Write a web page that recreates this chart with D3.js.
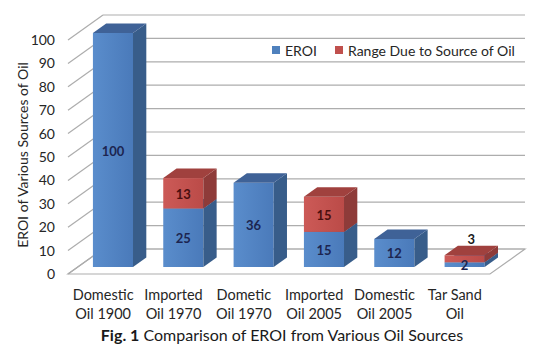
<!DOCTYPE html>
<html>
<head>
<meta charset="utf-8">
<script src="https://cdn.jsdelivr.net/npm/d3@7"></script>
<style>
  html, body { margin: 0; padding: 0; background: #fff; }
  svg { display: block; font-family: Lato, "Open Sans", sans-serif; }
</style>
</head>
<body>
<svg id="chart" width="550" height="353"></svg>
<script>
// ---- data ----
const categories = [
  ["Domestic", "Oil 1900"],
  ["Imported", "Oil 1970"],
  ["Dometic", "Oil 1970"],
  ["Imported", "Oil 2005"],
  ["Domestic", "Oil 2005"],
  ["Tar Sand", "Oil"]
];
const eroiValues = [100, 25, 36, 15, 12, 2];
const rangeValues = [0, 13, 0, 15, 0, 3];
const yTicks = [0, 10, 20, 30, 40, 50, 60, 70, 80, 90, 100];
const seriesNames = ["EROI", "Range Due to Source of Oil"];

(function () {
  const svg = d3.select("#chart");

  // plot geometry (front plane of the floor + 3d depth)
  const x0 = 68, x1 = 490;
  const depthX = 35, depthY = 25;
  const barFront = 0.28, barDepth = 0.38;
  const bdx = depthX * barDepth, bdy = depthY * barDepth;
  const offX = depthX * barFront, offY = depthY * barFront;

  const y = d3.scaleLinear().domain([0, 100]).range([274, 40]);
  const idx = categories.map((d, i) => i);
  const x = d3.scaleBand()
    .domain(idx)
    .range([x0, x1])
    .paddingInner(0.43)
    .paddingOuter(0.215);

  const colors = {
    blue: { front: ["#5a8dcc", "#4a7aba"], side: "#385d8a", top: "#3f6297", label: "#1c2550" },
    red: { front: ["#cc5a57", "#bb4b48"], side: "#8e3b39", top: "#a0413e", label: "#4a0f0f" }
  };

  const defs = svg.append("defs");
  Object.keys(colors).forEach(k => {
    const g = defs.append("linearGradient")
      .attr("id", "grad-" + k)
      .attr("x1", "0%").attr("x2", "100%").attr("y1", "0%").attr("y2", "0%");
    g.append("stop").attr("offset", "0%").attr("stop-color", colors[k].front[0]);
    g.append("stop").attr("offset", "100%").attr("stop-color", colors[k].front[1]);
  });

  // --- walls / gridlines ---
  const grid = svg.append("g").attr("stroke", "#adadad").attr("stroke-width", 1.2).attr("fill", "none");

  // floor
  grid.append("path")
    .attr("d", `M${x0},${y(0)} L${x1},${y(0)} L${x1 + depthX},${y(0) - depthY} L${x0 + depthX},${y(0) - depthY} Z`);

  yTicks.forEach(t => {
    grid.append("line")
      .attr("x1", x0).attr("y1", y(t))
      .attr("x2", x0 + depthX).attr("y2", y(t) - depthY);
    grid.append("line")
      .attr("x1", x0 + depthX).attr("y1", y(t) - depthY)
      .attr("x2", x1 + depthX).attr("y2", y(t) - depthY);
  });

  // y axis labels
  const yAxis = svg.append("g")
    .attr("transform", `translate(${x0},0)`)
    .call(d3.axisLeft(y).tickValues(yTicks).tickSize(0).tickPadding(13));
  yAxis.select(".domain").remove();
  yAxis.selectAll("text")
    .style("font-family", "Lato, sans-serif")
    .style("font-size", "14px")
    .attr("fill", "#262626");

  // y title
  svg.append("text")
    .attr("transform", `translate(24,${(y(0) + y(100)) / 2 - 2}) rotate(-90)`)
    .attr("text-anchor", "middle")
    .attr("dominant-baseline", "middle")
    .style("font-size", "14px")
    .attr("fill", "#262626")
    .text("EROI of Various Sources of Oil");

  // --- bars ---
  function drawBlock(g, i, v0, v1, c) {
    const bx = x(i) + offX;
    const bw = x.bandwidth();
    const yb = y(v0) - offY;
    const yt = y(v1) - offY;
    // front
    g.append("rect")
      .attr("x", bx).attr("y", yt)
      .attr("width", bw).attr("height", yb - yt)
      .attr("fill", `url(#grad-${c})`);
    // side
    g.append("path")
      .attr("d", `M${bx + bw},${yb} L${bx + bw + bdx},${yb - bdy} L${bx + bw + bdx},${yt - bdy} L${bx + bw},${yt} Z`)
      .attr("fill", colors[c].side);
    // top
    g.append("path")
      .attr("d", `M${bx},${yt} L${bx + bw},${yt} L${bx + bw + bdx},${yt - bdy} L${bx + bdx},${yt - bdy} Z`)
      .attr("fill", colors[c].top);
  }

  const bars = svg.append("g");
  idx.forEach(i => {
    const g = bars.append("g");
    drawBlock(g, i, 0, eroiValues[i], "blue");
    if (rangeValues[i] > 0) drawBlock(g, i, eroiValues[i], eroiValues[i] + rangeValues[i], "red");
  });

  // value labels
  const labels = svg.append("g")
    .attr("text-anchor", "middle")
    .attr("dominant-baseline", "central")
    .style("font-size", "13px")
    .style("font-weight", "bold");

  idx.forEach(i => {
    const cx = x(i) + offX + x.bandwidth() / 2;
    labels.append("text")
      .attr("x", cx)
      .attr("y", (y(0) + y(eroiValues[i])) / 2 - offY + 0.5)
      .attr("fill", colors.blue.label)
      .text(eroiValues[i]);
    if (rangeValues[i] > 0) {
      const top = eroiValues[i] + rangeValues[i];
      const h = y(eroiValues[i]) - y(top);
      if (h > 14) {
        labels.append("text")
          .attr("x", cx)
          .attr("y", (y(eroiValues[i]) + y(top)) / 2 - offY + 0.5)
          .attr("fill", colors.red.label)
          .text(rangeValues[i]);
      } else {
        labels.append("text")
          .attr("x", cx + bdx / 2)
          .attr("y", y(top) - offY - bdy - 7)
          .attr("fill", "#1a1a1a")
          .text(rangeValues[i]);
      }
    }
  });

  // category labels
  const cat = svg.append("g")
    .attr("text-anchor", "middle")
    .style("font-size", "14.5px")
    .attr("fill", "#262626");
  idx.forEach(i => {
    const cx = x(i) + x.bandwidth() / 2;
    const t = cat.append("text").attr("x", cx).attr("y", 300);
    t.append("tspan").attr("x", cx).attr("dy", 0).text(categories[i][0]);
    t.append("tspan").attr("x", cx).attr("dy", 18.5).text(categories[i][1]);
  });

  // legend
  const legend = svg.append("g").attr("transform", "translate(272,50)");
  const legItems = [
    { name: seriesNames[0], color: "#4f81bd", x: 0 },
    { name: seriesNames[1], color: "#c0504d", x: 63 }
  ];
  legItems.forEach(d => {
    legend.append("rect")
      .attr("x", d.x).attr("y", -4)
      .attr("width", 8).attr("height", 8)
      .attr("fill", d.color);
    legend.append("text")
      .attr("x", d.x + 13).attr("y", 0)
      .attr("dominant-baseline", "central")
      .style("font-size", "14px")
      .attr("fill", "#262626")
      .text(d.name);
  });

  // caption
  const cap = svg.append("text")
    .attr("x", 282).attr("y", 341)
    .attr("text-anchor", "middle")
    .style("font-size", "16px")
    .attr("fill", "#1a1a1a");
  cap.append("tspan").style("font-weight", "bold").text("Fig. 1");
  cap.append("tspan").text(" Comparison of EROI from Various Oil Sources");
})();
</script>
</body>
</html>
